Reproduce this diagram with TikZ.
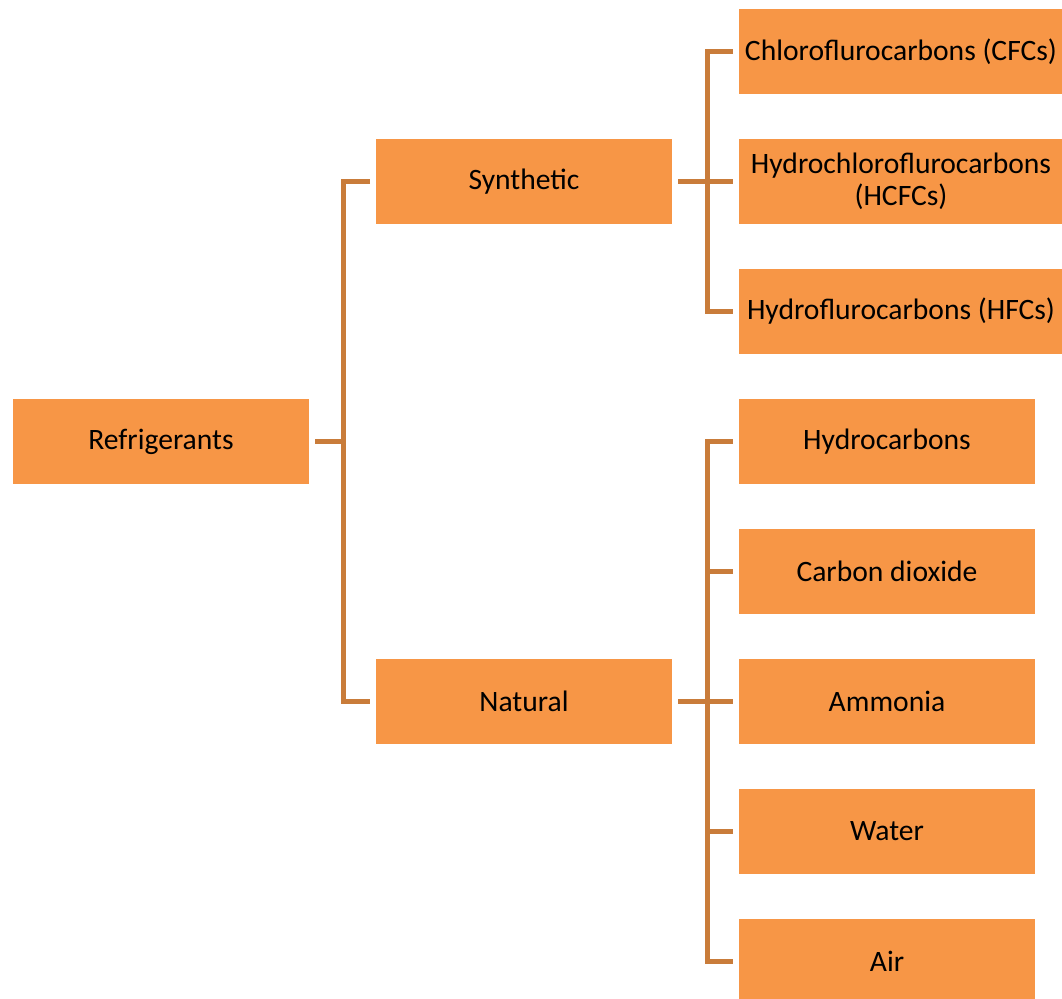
\documentclass[tikz,border=0pt]{standalone}
\usepackage{fontspec}
\setmainfont{Carlito}
\usetikzlibrary{positioning, calc}
\definecolor{boxorange}{RGB}{247,150,70}
\definecolor{lineorange}{RGB}{201,124,58}

\begin{document}
\begin{tikzpicture}[
    x=0.75pt,
    y=-0.75pt,
    font=\fontsize{22.2}{24}\selectfont,
    node distance=33.75pt,
    box/.style={fill=boxorange, minimum width=222pt, minimum height=63.75pt, inner sep=0pt, outer sep=0pt, align=center},
    widebox/.style={box, minimum width=243pt},
    conn/.style={draw=lineorange, line width=3.75pt}
]
    \useasboundingbox (0,0) rectangle (1062,998);
    \clip (0,0) rectangle (1062,998);

    % Root and the two groups
    \node[box] (ref) at (161,441.5) {Refrigerants};
    \node[box] (syn) at (524,181.5) {Synthetic};
    \node[box] (nat) at (524,701.5) {Natural};

    % Synthetic refrigerants
    \node[widebox] (cfc) at (901,51.5) {Chloroflurocarbons (CFCs)};
    \node[widebox, below=of cfc] (hcfc) {Hydrochloroflurocarbons\\(HCFCs)};
    \node[widebox, below=of hcfc] (hfc) {Hydroflurocarbons (HFCs)};

    % Natural refrigerants
    \node[box] (hc) at (887,441.5) {Hydrocarbons};
    \node[box, below=of hc] (co2) {Carbon dioxide};
    \node[box, below=of co2] (amm) {Ammonia};
    \node[box, below=of amm] (water) {Water};
    \node[box, below=of water] (air) {Air};

    % Junctions of the brackets
    \coordinate (j1) at (343,441.5);
    \coordinate (j2) at (707,181.5);
    \coordinate (j3) at (707,701.5);

    % Root bracket
    \draw[conn] ([xshift=4.5pt]ref.east) -- (j1);
    \draw[conn] ([xshift=-4.5pt]syn.west) -| (j1 |- nat.west) -- ([xshift=-4.5pt]nat.west);

    % Synthetic bracket
    \draw[conn] ([xshift=-4.5pt]cfc.west) -| (j2 |- hfc.west) -- ([xshift=-4.5pt]hfc.west);
    \draw[conn] ([xshift=4.5pt]syn.east) -- ([xshift=-4.5pt]hcfc.west);

    % Natural bracket
    \draw[conn] ([xshift=-4.5pt]hc.west) -| (j3 |- air.west) -- ([xshift=-4.5pt]air.west);
    \draw[conn] ([xshift=4.5pt]nat.east) -- ([xshift=-4.5pt]amm.west);
    \draw[conn] ([xshift=-4.5pt]co2.west) -- (j3 |- co2.west);
    \draw[conn] ([xshift=-4.5pt]water.west) -- (j3 |- water.west);

\end{tikzpicture}
\end{document}
